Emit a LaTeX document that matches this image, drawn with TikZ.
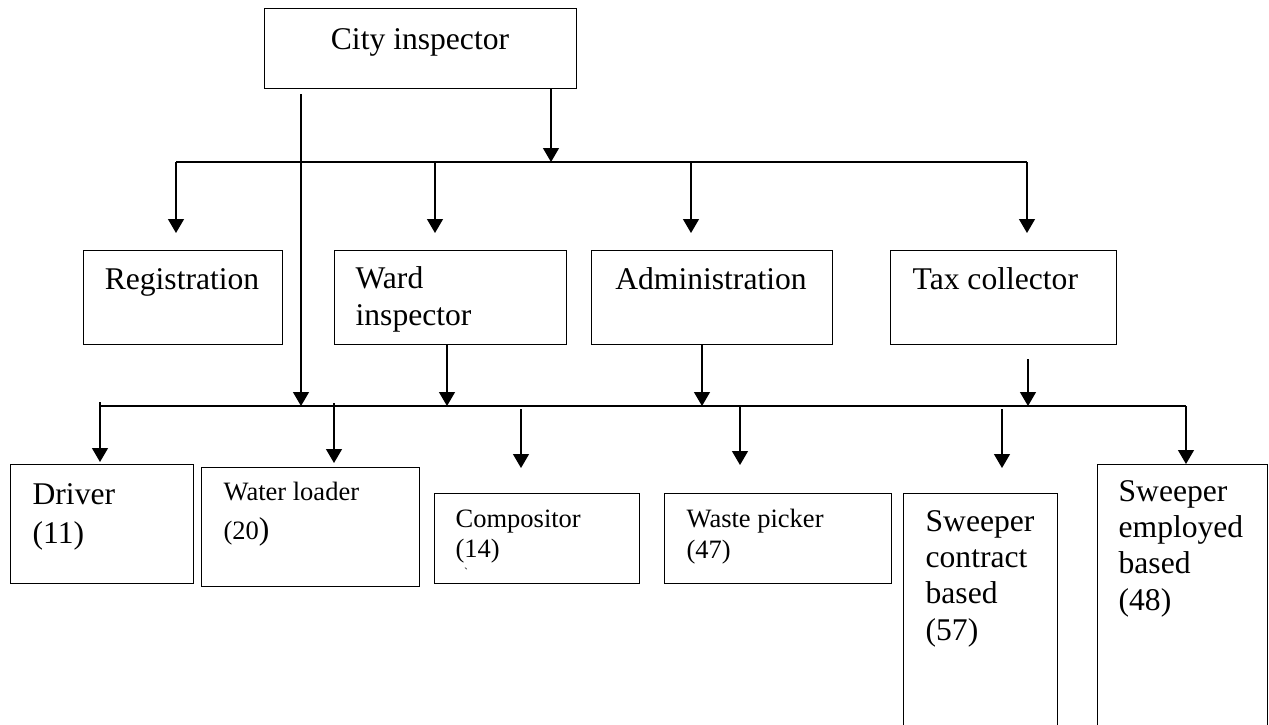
\documentclass[tikz,border=0pt]{standalone}
\usepackage{fontspec}
\setmainfont{Liberation Serif}
\usetikzlibrary{arrows.meta,calc}
\newcommand{\orgbox}[4]{\node[box,minimum width=#3pt,minimum height=#4pt] (#1) at (#2) {};}
\tikzset{box/.style={draw,line width=1.4pt,anchor=north west,inner sep=0pt},
  big/.style={font=\fontsize{31.6}{36}\selectfont,align=left,inner sep=0pt},
  sml/.style={font=\fontsize{26.5}{31}\selectfont,align=left,inner sep=0pt}}

\begin{document}
\begin{tikzpicture}[>={Triangle[length=14pt,width=16pt]},line width=1.3pt,x=1pt,y=-1pt]
\clip (0,0) rectangle (1269,724);
\orgbox{city}{264,8}{312}{80}
\orgbox{reg}{83,250}{199}{94}
\orgbox{ward}{334,250}{232}{94}
\orgbox{adm}{591,250}{241}{94}
\orgbox{tax}{890,250}{226}{94}
\orgbox{drv}{10,464}{183}{119}
\orgbox{wat}{201,467}{218}{119}
\orgbox{cmp}{434,493}{205}{90}
\orgbox{wst}{664,493}{227}{90}
\orgbox{scon}{903,493}{154}{260}
\orgbox{semp}{1097,464}{170}{290}
\node[big,anchor=base] (cityt) at (420,49) {City inspector};
\node[big,anchor=base] (regt) at (182,289) {Registration};
\node[big,anchor=base west] (wardt) at (355,325) {Ward\\[1pt]inspector};
\node[big,anchor=base] (admt) at (711,289) {Administration};
\node[big,anchor=base west] (taxt) at (912,289) {Tax collector};
\node[big,anchor=base west] (drvt) at (32,543) {Driver\\[3pt](11)};
\node[sml,anchor=base west] (watt) at (223,539) {Water loader\\[8pt](20{\fontsize{31.6}{36}\selectfont)}};
\node[sml,anchor=base west] (cmpt) at (455,557) {Compositor\\[-1pt](14)};
\node[sml,anchor=base west] (wstt) at (686,558) {Waste picker\\[0pt](47)};
\node[font=\fontsize{12}{12}\selectfont,inner sep=0pt] (tick) at (466,572) {\textasciigrave};
\node[big,anchor=base west] (scont) at (925,640) {Sweeper\\contract\\based\\[1pt](57)};
\node[big,anchor=base west] (sempt) at (1118,610) {Sweeper\\employed\\based\\[1pt](48)};
\coordinate (bartop) at (551,162);
\coordinate (tl) at (176,162);
\coordinate (tr) at (1027,162);
\draw (tl) -- (tr);
\draw[->] (city.south -| bartop) -- (bartop);
\foreach \n/\x in {reg/176,ward/435,adm/691,tax/1027}{
  \coordinate (top\n) at (\x,162);
  \draw[->] (top\n) -- ($(top\n |- \n.north)+(0,-17)$);}
\coordinate (bl) at (100,406);
\coordinate (br) at (1186,406);
\coordinate (city2) at (301,406);
\coordinate (fw) at (447,406);
\coordinate (fa) at (702,406);
\coordinate (ft) at (1028,406);
\draw (bl) -- (br);
\draw[->] ($(city.south -| city2)+(0,5)$) -- (city2);
\draw[->] (ward.south -| fw) -- (fw);
\draw[->] (adm.south -| fa) -- (fa);
\draw[->] ($(tax.south -| ft)+(0,14)$) -- (ft);
\foreach \n/\x/\a/\g in {drv/100/-4/2,wat/334/-3/4,cmp/521/3/25,wst/740/0/28,scon/1002/3/25,semp/1186/0/0}{
  \coordinate (dn\n) at (\x,406);
  \draw[->] ($(dn\n)+(0,\a)$) -- ($(dn\n |- \n.north)+(0,-\g)$);}
\end{tikzpicture}
\end{document}
